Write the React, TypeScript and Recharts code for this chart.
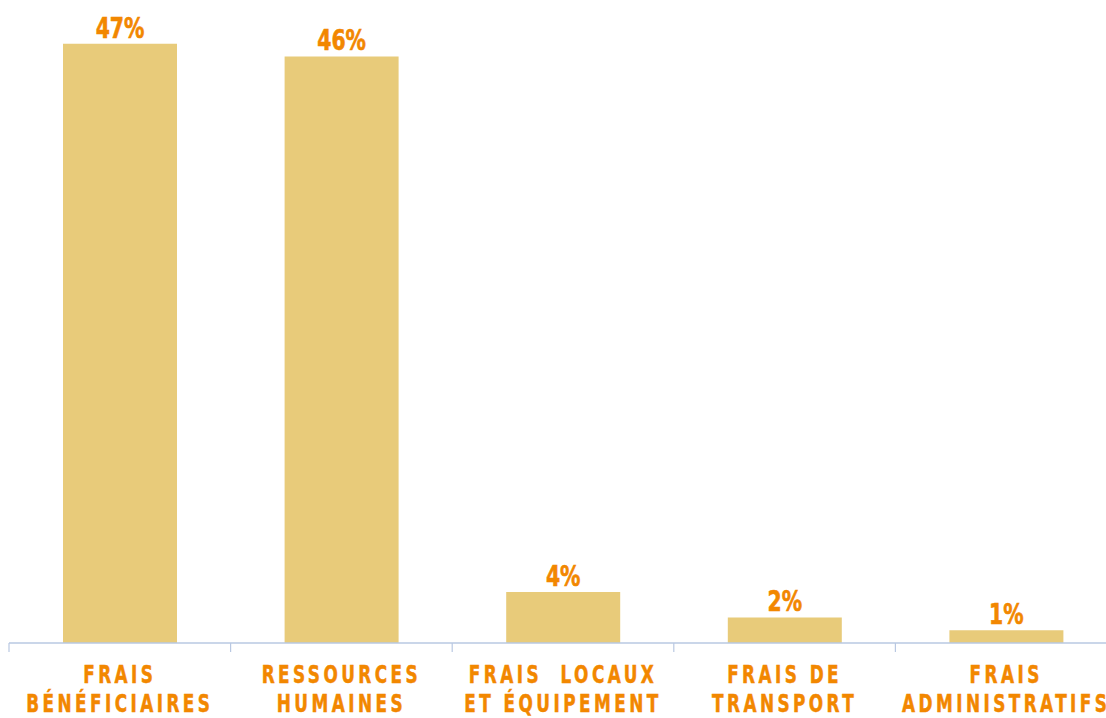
import { BarChart, Bar, XAxis, YAxis, LabelList } from 'recharts'

const categories = [
  ['FRAIS', 'BÉNÉFICIAIRES'],
  ['RESSOURCES', 'HUMAINES'],
  ['FRAIS  LOCAUX', 'ET ÉQUIPEMENT'],
  ['FRAIS DE', 'TRANSPORT'],
  ['FRAIS', 'ADMINISTRATIFS'],
]
const shares = [47, 46, 4, 2, 1]

const data = categories.map((lines, i) => ({ key: lines.join(' '), share: shares[i] }))

const FONT = "'DejaVu Sans Condensed', 'Liberation Sans Narrow', sans-serif"
const ORANGE = '#f28700'
const AXIS = '#b9c8e2'
const BAND = 1108 / categories.length

// squeeze text horizontally around its anchor to get the condensed look
const squeeze = (x: number, k: number) => `translate(${x},0) scale(${k},1) translate(${-x},0)`

function CategoryTick(props: any) {
  const { x, y, index } = props
  const lines = categories[index] || []
  const left = x - BAND / 2
  return (
    <g>
      <line x1={left} x2={left} y1={y} y2={y + 9} stroke={AXIS} strokeWidth={1.2} />
      <text
        x={x}
        y={y}
        textAnchor="middle"
        fill={ORANGE}
        stroke={ORANGE}
        strokeWidth={0.5}
        fontFamily={FONT}
        fontWeight="bold"
        fontSize={25}
        letterSpacing={4.6}
        transform={squeeze(x, 0.75)}
        style={{ whiteSpace: 'pre' }}
      >
        <tspan x={x} dy={40}>{lines[0]}</tspan>
        <tspan x={x} dy={29}>{lines[1]}</tspan>
      </text>
    </g>
  )
}

function ValueLabel(props: any) {
  const { x, y, width, value } = props
  const cx = x + width / 2
  return (
    <text
      x={cx}
      y={y - 6}
      textAnchor="middle"
      fill={ORANGE}
      stroke={ORANGE}
      strokeWidth={0.6}
      fontFamily={FONT}
      fontWeight="bold"
      fontSize={29}
      transform={squeeze(cx, 0.78)}
    >
      {`${value}%`}
    </text>
  )
}

export default function App() {
  return (
    <div style={{ position: 'fixed', left: 0, top: 0, background: '#fff' }}>
      <BarChart
        width={1106}
        height={718}
        data={data}
        margin={{ top: 5.5, right: -11, left: 9, bottom: 0 }}
      >
        <XAxis
          dataKey="key"
          interval={0}
          tickLine={false}
          tickSize={0}
          tickMargin={0}
          axisLine={{ stroke: AXIS, strokeWidth: 1.5 }}
          tick={<CategoryTick />}
          height={75}
        />
        <YAxis hide domain={[0, 50]} />
        <Bar dataKey="share" fill="#e8cb7a" barSize={114} isAnimationActive={false}>
          <LabelList dataKey="share" content={<ValueLabel />} />
        </Bar>
      </BarChart>
    </div>
  )
}
